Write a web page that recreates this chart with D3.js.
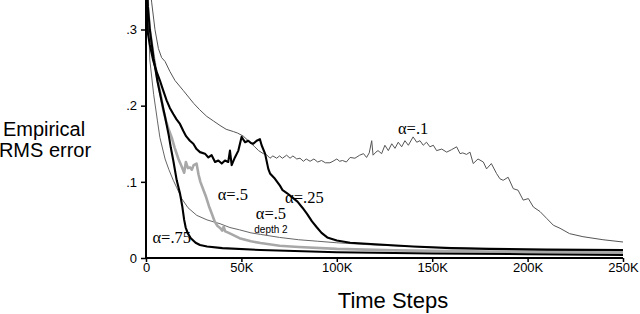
<!DOCTYPE html>
<html><head><meta charset="utf-8">
<script src="https://cdn.jsdelivr.net/npm/d3@7"></script>
<style>html,body{margin:0;padding:0;background:#fff;}svg{display:block;}</style>
</head><body>
<svg id="c" width="640" height="314"></svg>
<script>
// x in thousands of time steps, y = empirical RMS error
const alpha10 = [[0,0.45],[1.5,0.37],[3,0.335],[4.7,0.30],[6.5,0.275],[8.2,0.263],[10,0.258],[12.5,0.245],[15.2,0.233],[19.5,0.22],[25,0.203],[28,0.195],[31.8,0.186],[35.3,0.18],[38.8,0.174],[42,0.169],[45.8,0.166],[48,0.164],[51,0.160],[54,0.153],[57,0.146],[59,0.141],[61.5,0.137],[63,0.136],[65,0.131],[66.5,0.134],[68.5,0.131],[70,0.134],[71.5,0.131],[73.7,0.135],[75.5,0.131],[77,0.134],[79,0.13],[80.7,0.131],[82.5,0.127],[84,0.13],[86,0.127],[88,0.13],[90,0.126],[92,0.128],[94,0.125],[96.4,0.125],[98,0.127],[100,0.130],[101.5,0.127],[103,0.128],[105,0.126],[107,0.132],[109.5,0.131],[112,0.135],[114,0.137],[115.6,0.132],[117,0.138],[118.3,0.154],[119,0.135],[120.5,0.139],[121.6,0.141],[123.5,0.137],[125.2,0.148],[127,0.141],[128.8,0.150],[130.5,0.144],[132.2,0.152],[134,0.146],[135.7,0.154],[137.5,0.148],[140,0.159],[141.9,0.152],[143.6,0.154],[145.3,0.148],[147,0.152],[148.8,0.146],[150.6,0.148],[152.3,0.141],[155,0.143],[157.6,0.139],[160,0.142],[162.8,0.146],[164.6,0.137],[166,0.138],[168,0.136],[169.8,0.139],[171.5,0.124],[174,0.130],[176.8,0.126],[178.5,0.117],[181,0.124],[183.7,0.111],[185.5,0.104],[187.2,0.102],[189.8,0.106],[192.5,0.091],[195,0.089],[197.7,0.076],[200.4,0.078],[203,0.067],[206.5,0.061],[210,0.052],[213.5,0.043],[217,0.039],[222,0.032],[229,0.028],[239.5,0.024],[250,0.021]];
const alpha50depth2 = [[0,0.42],[1,0.33],[2,0.26],[4,0.215],[6,0.18],[7.3,0.158],[10,0.13],[12,0.116],[14.3,0.102],[16,0.093],[18.7,0.078],[22,0.066],[26.6,0.056],[32,0.05],[38.8,0.045],[44,0.040],[49,0.037],[55,0.033],[60,0.031],[70,0.027],[80,0.024],[90,0.022],[100,0.02],[120,0.017],[150,0.014],[200,0.011],[250,0.009]];
const alpha50 = [[0,0.40],[1,0.33],[2,0.30],[4,0.265],[6,0.235],[8,0.21],[9,0.195],[10.5,0.18],[12,0.168],[13.5,0.158],[15,0.145],[17,0.13],[18.7,0.12],[20,0.112],[20.9,0.126],[22,0.118],[23,0.119],[24,0.116],[25,0.122],[26.5,0.124],[27.5,0.11],[28.5,0.1],[30,0.09],[31.5,0.08],[33,0.068],[34.5,0.058],[36,0.048],[37.5,0.042],[39,0.039],[40,0.036],[40.7,0.041],[41.5,0.035],[42.5,0.034],[45,0.031],[49,0.026],[55,0.022],[60,0.0196],[70,0.016],[80,0.0145],[100,0.012],[130,0.010],[160,0.009],[200,0.008],[250,0.007]];
const alpha25 = [[0,0.40],[0.5,0.32],[1,0.295],[2,0.28],[3.8,0.259],[5.5,0.245],[7.3,0.233],[9,0.22],[10.8,0.207],[12.5,0.197],[14.3,0.189],[16,0.182],[17.8,0.176],[19.5,0.167],[21,0.16],[23,0.154],[24.8,0.15],[26.5,0.143],[28.3,0.139],[30.9,0.137],[32.7,0.132],[34.4,0.135],[36.2,0.126],[37.9,0.128],[39.7,0.124],[41.4,0.128],[43.1,0.126],[44,0.141],[44.9,0.122],[46.6,0.132],[48.4,0.141],[50.1,0.159],[51.9,0.152],[53.6,0.154],[55,0.151],[56.2,0.150],[58,0.154],[59.7,0.156],[60.6,0.148],[62.4,0.137],[64.1,0.117],[65,0.111],[67.6,0.104],[70.2,0.095],[71.6,0.089],[74,0.085],[76.5,0.08],[79.4,0.074],[82,0.066],[84.4,0.058],[87,0.048],[89.6,0.04],[92,0.033],[95,0.027],[100,0.023],[107,0.02],[120,0.018],[140,0.015],[160,0.013],[180,0.012],[210,0.011],[250,0.0105]];
const alpha75 = [[0,0.40],[1,0.33],[2,0.30],[4,0.262],[6,0.232],[8,0.208],[10,0.185],[12,0.16],[13,0.145],[14.3,0.128],[16.1,0.102],[17.8,0.085],[19,0.068],[20,0.05],[20.8,0.04],[22,0.032],[23.5,0.026],[26,0.02],[28.3,0.017],[32,0.015],[40,0.013],[60,0.0105],[100,0.0075],[150,0.006],[200,0.005],[250,0.004]];

const xTicks = [0, 50, 100, 150, 200, 250];
const xTickLabels = ["0", "50K", "100K", "150K", "200K", "250K"];
const yTicks = [0, 0.1, 0.2, 0.3];
const yTickLabels = ["0", ".1", ".2", ".3"];
const seriesLabels = [
  {text: "α=.1", x: 140, y: 0.163},
  {text: "α=.25", x: 83, y: 0.072},
  {text: "α=.5", x: 45.5, y: 0.076},
  {text: "α=.5", x: 65.5, y: 0.051},
  {text: "α=.75", x: 13.5, y: 0.02}
];

const svg = d3.select("#c");
const L = 146, R = 623, T = 0, B = 258;
const x = d3.scaleLinear().domain([0, 250]).range([L, R]);
const y = d3.scaleLinear().domain([0, 0.3]).range([B, 29.5]);

svg.append("defs").append("clipPath").attr("id", "clip")
  .append("rect").attr("x", L).attr("y", T).attr("width", R - L + 2).attr("height", B - T);

const line = d3.line().x(d => x(d[0])).y(d => y(d[1]));
const g = svg.append("g").attr("clip-path", "url(#clip)");
const styles = [
  [alpha10, "#555", 1],
  [alpha50depth2, "#666", 1],
  [alpha50, "#a8a8a8", 2.6],
  [alpha25, "#000", 2.1],
  [alpha75, "#000", 2.1]
];
styles.forEach(([d, c, w]) => {
  g.append("path").datum(d).attr("d", line).attr("fill", "none")
    .attr("stroke", c).attr("stroke-width", w).attr("stroke-linejoin", "round");
});

const font = "'Liberation Sans', Arial, Helvetica, sans-serif";
const xAxis = svg.append("g").attr("transform", `translate(0,${B})`)
  .call(d3.axisBottom(x).tickValues(xTicks).tickFormat((d, i) => xTickLabels[i]).tickSize(4).tickSizeOuter(0).tickPadding(1));
xAxis.select(".domain").attr("stroke-width", 2).attr("d", `M${L},0H${R}`);
xAxis.selectAll("line").attr("stroke-width", 1.5);
xAxis.selectAll("text").attr("font-family", font).attr("font-size", 13).attr("fill", "#000");

const yAxis = svg.append("g").attr("transform", `translate(${L},0)`)
  .call(d3.axisLeft(y).tickValues(yTicks).tickFormat((d, i) => yTickLabels[i]).tickSize(5).tickSizeOuter(0).tickPadding(4));
yAxis.select(".domain").attr("stroke-width", 2).attr("d", `M0,${T}V${B}`);
yAxis.selectAll("line").attr("stroke-width", 1.5);
yAxis.selectAll("text").attr("font-family", font).attr("font-size", 13).attr("fill", "#000");

svg.append("text").attr("x", 393).attr("y", 308).attr("text-anchor", "middle")
  .attr("font-family", font).attr("font-size", 22).text("Time Steps");
svg.append("text").attr("x", 44).attr("y", 136).attr("text-anchor", "middle")
  .attr("font-family", font).attr("font-size", 20).text("Empirical");
svg.append("text").attr("x", 45).attr("y", 157).attr("text-anchor", "middle")
  .attr("font-family", font).attr("font-size", 20).text("RMS error");

const serif = "'Liberation Serif', 'Times New Roman', serif";
seriesLabels.forEach(s => {
  svg.append("text").attr("x", x(s.x)).attr("y", y(s.y)).attr("text-anchor", "middle")
    .attr("font-family", serif).attr("font-size", 16.5).text(s.text);
});
svg.append("text").attr("x", x(65.5)).attr("y", y(0.0325)).attr("text-anchor", "middle")
  .attr("font-family", font).attr("font-size", 10).text("depth 2");
</script>
</body></html>
